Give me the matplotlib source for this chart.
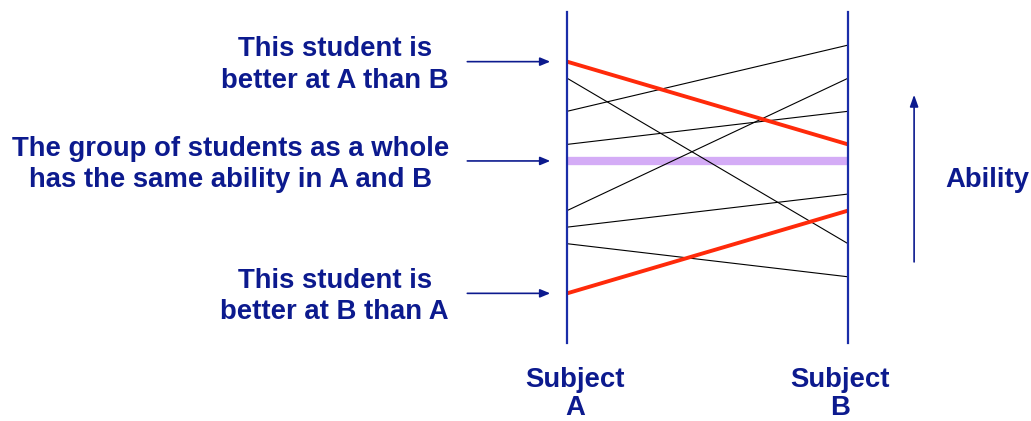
import matplotlib
matplotlib.use("Agg")
import matplotlib.pyplot as plt

# ── Data ────────────────────────────────────────────────────────
subjects = ["Subject\nA", "Subject\nB"]
ability_a = [17, 16, 14, 12, 8, 7, 6, 3]
ability_b = [12, 6, 18, 14, 16, 9, 4, 8]
highlight = [True, False, False, False, False, False, False, True]
group_level = 11
scale_max = 20

notes = [
    ("This student is\nbetter at A than B", ability_a[0]),
    ("The group of students as a whole\nhas the same ability in A and B", group_level),
    ("This student is\nbetter at B than A", ability_a[7]),
]

NAVY = "#0c1a8e"
AXIS_BLUE = "#1a2da8"
RED = "#ff2a0a"
LILAC = "#d4acf6"
FS = 19.8

plt.rcParams["font.family"] = ["Liberation Sans", "DejaVu Sans"]

fig = plt.figure(figsize=(10.31, 4.21), dpi=100)
ax = fig.add_axes([0, 0, 1, 1])
ax.set_xlim(-2.018, 1.651)
ax.set_ylim(-4.713, 20.725)
ax.axis("off")

# subject axes
for x in (0, 1):
    ax.plot([x, x], [0, scale_max], color=AXIS_BLUE, lw=1.6, zorder=5)

# group average
ax.plot([0, 1], [group_level, group_level], color=LILAC, lw=6, zorder=1,
        solid_capstyle="butt")

# students
for a, b, hi in zip(ability_a, ability_b, highlight):
    if hi:
        ax.plot([0, 1], [a, b], color=RED, lw=2.8, zorder=3,
                solid_capstyle="butt")
    else:
        ax.plot([0, 1], [a, b], color="black", lw=0.8, zorder=2)

# left annotations
for text, y in notes:
    ax.annotate("", xy=(-0.06, y), xytext=(-0.355, y),
                arrowprops=dict(arrowstyle="-|>,head_length=0.6,head_width=0.25",
                                color=NAVY, lw=1.2, shrinkA=0, shrinkB=0))
    ax.text(-0.42, y - 0.2, text, ha="right", va="center", multialignment="center",
            color=NAVY, fontsize=FS, fontweight="bold", linespacing=1.27)

# ability arrow
ax.annotate("", xy=(1.235, 15.0), xytext=(1.235, 4.9),
            arrowprops=dict(arrowstyle="-|>,head_length=0.7,head_width=0.25",
                            color=NAVY, lw=1.2, shrinkA=0, shrinkB=0))
ax.text(1.645, 9.85, "Ability", ha="right", va="center", color=NAVY,
        fontsize=FS, fontweight="bold")

# subject labels
for x, lab in zip((0.028, 0.97), subjects):
    ax.text(x, -3.1, lab, ha="center", va="center", color=NAVY,
            fontsize=FS, fontweight="bold", linespacing=1.1)

fig.savefig("out.png", dpi=100)
